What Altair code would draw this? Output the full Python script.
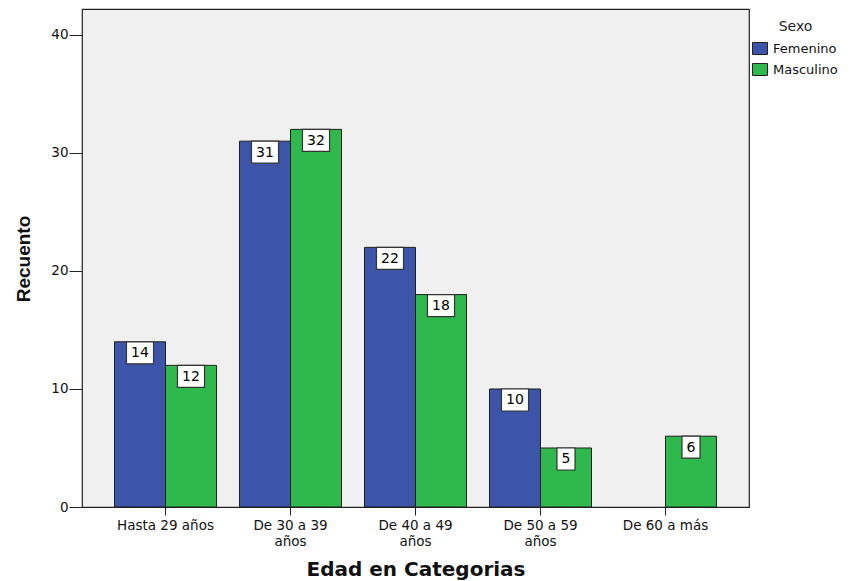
import altair as alt
import pandas as pd

# Age groups on the x axis and the two sex series
categories = ["Hasta 29 años", "De 30 a 39 años", "De 40 a 49 años",
              "De 50 a 59 años", "De 60 a más"]
sexes = ["Femenino", "Masculino"]
femenino = [14, 31, 22, 10, 0]
masculino = [12, 32, 18, 5, 6]
colors = ["#3c55a9", "#2fb84b"]
y_ticks = [0, 10, 20, 30, 40]

rows = []
for cat, f, m in zip(categories, femenino, masculino):
    for sexo, n in zip(sexes, (f, m)):
        if n > 0:
            rows.append({"edad": cat, "sexo": sexo, "recuento": n})
df = pd.DataFrame(rows)

# Label boxes: custom rectangle paths (unit space, scaled by sqrt(size)/2)
box_one = "M-0.82,-1L0.82,-1L0.82,1L-0.82,1Z"
box_two = "M-1.23,-1L1.23,-1L1.23,1L-1.23,1Z"
legend_box = "M-1.25,-1L1.25,-1L1.25,1L-1.25,1Z"

label_expr = ("indexof(datum.value, 'De ') == 0 && indexof(datum.value, ' años') > 0"
              " ? [replace(datum.value, ' años', ''), 'años'] : datum.value")

x_enc = alt.X(
    "edad:N",
    sort=categories,
    scale=alt.Scale(domain=categories, paddingInner=0.184, paddingOuter=0.26),
    axis=alt.Axis(
        title="Edad en Categorias",
        labelExpr=label_expr,
        labelAngle=0,
        labelFont="DejaVu Sans",
        labelFontSize=13.5,
        labelLineHeight=16,
        labelColor="#111",
        labelPadding=3,
        tickSize=8,
        tickColor="#222",
        domain=False,
        titleFont="DejaVu Sans",
        titleFontSize=20,
        titleFontWeight="bold",
        titleColor="#111",
        titleBaseline="middle",
        titleY=62,
    ),
)
xoff_enc = alt.XOffset("sexo:N", scale=alt.Scale(domain=sexes, paddingInner=0, paddingOuter=0))
y_enc = alt.Y(
    "recuento:Q",
    scale=alt.Scale(domain=[0, 42.2], nice=False, zero=True),
    axis=alt.Axis(
        title="Recuento",
        values=y_ticks,
        grid=False,
        domain=False,
        tickSize=13,
        tickColor="#222",
        labelFont="DejaVu Sans",
        labelFontSize=13.5,
        labelColor="#111",
        labelPadding=1,
        titleFont="Liberation Sans",
        titleFontSize=19,
        titleFontWeight="bold",
        titleColor="#111",
        titleAngle=-90,
        titleAlign="center",
        titleBaseline="middle",
        titleX=-59,
        titleY=249.5,
    ),
)

base = alt.Chart(df).encode(x=x_enc, xOffset=xoff_enc, y=y_enc)

bars = base.mark_bar(stroke="#1e1e1e", strokeWidth=1).encode(
    color=alt.Color(
        "sexo:N",
        scale=alt.Scale(domain=sexes, range=colors),
        legend=alt.Legend(
            title="Sexo",
            orient="none",
            legendX=671.5,
            legendY=11,
            padding=0,
            titleAnchor="middle",
            titleFont="DejaVu Sans",
            titleFontSize=14,
            titleFontWeight="normal",
            titleColor="#222",
            titlePadding=8,
            labelFont="DejaVu Sans",
            labelFontSize=13,
            labelColor="#111",
            labelOffset=6.5,
            symbolType=legend_box,
            symbolSize=144,
            symbolStrokeColor="#222",
            symbolStrokeWidth=1,
            symbolOpacity=1,
            rowPadding=4,
        ),
    )
)

boxes = base.mark_point(
    filled=True, fill="white", stroke="#333", strokeWidth=1.2, opacity=1, yOffset=11
).transform_calculate(
    digitos="toString(length(toString(datum.recuento)))"
).encode(
    shape=alt.Shape("digitos:N", scale=alt.Scale(domain=["1", "2"], range=[box_one, box_two]), legend=None),
    size=alt.value(484),
)

labels = base.mark_text(
    font="DejaVu Sans", fontSize=14, color="black", baseline="middle", yOffset=11.5
).encode(text="recuento:Q")

chart = (
    alt.layer(bars, boxes, labels)
    .properties(
        width=667,
        height=498,
        autosize=alt.AutoSizeParams(type="none"),
        padding={"left": 82, "top": 9, "right": 105, "bottom": 74},
        background="white",
    )
    .configure_view(stroke="#222", strokeWidth=1.2, fill="#f0f0f0")
)

chart.save("out.html", embed_options={"renderer": "svg", "actions": False})
